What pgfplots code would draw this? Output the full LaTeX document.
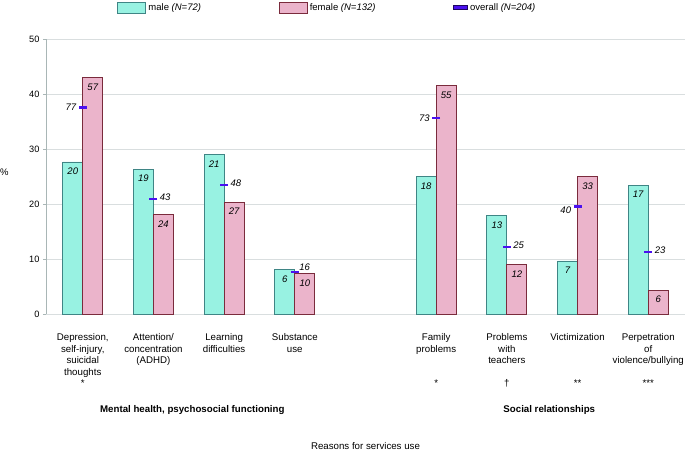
\documentclass[border=0pt]{standalone}
\usepackage{fontspec}
\setmainfont{Liberation Sans}
\usepackage{pgfplots}
\pgfplotsset{compat=1.18}
\definecolor{malefill}{HTML}{98F2E2}
\definecolor{maleedge}{HTML}{3F8585}
\definecolor{femfill}{HTML}{EBB4CB}
\definecolor{femedge}{HTML}{7A2B3C}
\definecolor{ovcol}{HTML}{4A10F0}
\definecolor{gridc}{HTML}{D9DEDF}
\definecolor{axc}{HTML}{A9B6B6}
\pgfplotsset{
  boxlegend/.style={legend image code/.code={\draw[##1] (0bp,-5.5bp) rectangle (28bp,5.5bp);}},
  ovlegend/.style={legend image code/.code={\draw[fill=ovcol,draw=black!60!ovcol,line width=0.6bp] (0bp,-2bp) rectangle (14bp,2bp);}},
}
\begin{document}
\begin{tikzpicture}
\useasboundingbox (0,0) rectangle (685bp,452bp);
\begin{axis}[
  at={(46bp,137.7bp)}, anchor=south west,
  scale only axis, width=639bp, height=275bp,
  xmin=-0.52, xmax=8.52, ymin=0, ymax=50,
  clip=false,
  axis x line*=bottom, axis y line*=left,
  x axis line style={draw=gridc, line width=1bp},
  y axis line style={draw=axc, line width=0.9bp},
  ytick={0,10,...,50},
  ymajorgrids, grid style={draw=gridc, line width=1bp},
  ytick style={draw=axc, line width=0.8bp},
  tick align=outside, major tick length=3bp,
  xtick={0,1,2,3,5,6,7,8},
  xtick style={draw=none},
  xticklabels={
    {Depression,\\self-injury,\\suicidal\\thoughts\\*},
    {Attention/\\concentration\\(ADHD)},
    {Learning\\difficulties},
    {Substance\\use},
    {Family\\problems\\\mbox{}\\\mbox{}\\*},
    {Problems\\with\\teachers\\\mbox{}\\\dag},
    {Victimization\\\mbox{}\\\mbox{}\\\mbox{}\\**},
    {Perpetration\\of\\violence/bullying\\\mbox{}\\***}
  },
  xticklabel style={align=center, font=\fontsize{9.7bp}{11.5bp}\selectfont, anchor=north, yshift=-13bp},
  yticklabel style={font=\fontsize{9.2bp}{11bp}\selectfont},
  /pgf/number format/assume math mode=true,
  legend style={at={(axis description cs:0.1111,1.115)}, anchor=west, legend columns=3,
    draw=none, fill=none, inner sep=0pt, font=\fontsize{9.5bp}{11bp}\selectfont,
    /tikz/every even column/.append style={column sep=75bp},
    nodes={inner sep=2.5bp}},
]
\addplot[ybar, bar width=20bp, bar shift=-10bp, fill=malefill, draw=maleedge, line width=0.8bp, boxlegend,
  nodes near coords, point meta=explicit symbolic, nodes near coords align={below},
  every node near coord/.append style={font=\fontsize{9.5bp}{11bp}\selectfont\itshape, text=black, xshift=-10bp, yshift=-2.5bp}]
  table[meta=n] {
x y n
0 27.7 20
1 26.4 19
2 29.1 21
3 8.2 6
5 25.0 18
6 18.0 13
7 9.7 7
8 23.5 17
};
\addlegendentry{male \textit{(N=72)}}
\addplot[ybar, bar width=20bp, bar shift=10bp, fill=femfill, draw=femedge, line width=0.8bp, boxlegend,
  nodes near coords, point meta=explicit symbolic, nodes near coords align={below},
  every node near coord/.append style={font=\fontsize{9.5bp}{11bp}\selectfont\itshape, text=black, xshift=10bp, yshift=-2.5bp}]
  table[meta=n] {
x y n
0 43.1 57
1 18.2 24
2 20.4 27
3 7.45 10
5 41.6 55
6 9.1 12
7 25.0 33
8 4.4 6
};
\addlegendentry{female \textit{(N=132)}}
\addplot[only marks, mark=-, mark size=4bp, mark options={line width=2.2bp, draw=ovcol}, ovlegend]
  coordinates {(0,37.6) (1,21.0) (2,23.5) (3,7.7) (5,35.7) (6,12.2) (7,19.6) (8,11.3)};
\addlegendentry{overall \textit{(N=204)}}
% overall labels, right side
\addplot[forget plot, draw=none, mark=none, nodes near coords, point meta=explicit symbolic,
  nodes near coords align={right},
  every node near coord/.append style={font=\fontsize{9.5bp}{11bp}\selectfont\itshape, text=black, xshift=3bp, yshift=2bp}]
  table[meta=n] {
x y n
1 21.0 43
2 23.5 48
6 12.2 25
8 11.3 23
};
\addplot[forget plot, draw=none, mark=none, nodes near coords, point meta=explicit symbolic,
  nodes near coords align={right},
  every node near coord/.append style={font=\fontsize{9.5bp}{11bp}\selectfont\itshape, text=black, xshift=1bp, yshift=4.5bp}]
  table[meta=n] {
x y n
3 7.7 16
};
% overall labels, left side
\addplot[forget plot, draw=none, mark=none, nodes near coords, point meta=explicit symbolic,
  nodes near coords align={left},
  every node near coord/.append style={font=\fontsize{9.5bp}{11bp}\selectfont\itshape, text=black, xshift=-3bp}]
  table[meta=n] {
x y n
0 37.6 77
5 35.7 73
};
\addplot[forget plot, draw=none, mark=none, nodes near coords, point meta=explicit symbolic,
  nodes near coords align={left},
  every node near coord/.append style={font=\fontsize{9.5bp}{11bp}\selectfont\itshape, text=black, xshift=-3bp, yshift=-4bp}]
  table[meta=n] {
x y n
7 19.6 40
};
\node[anchor=west, inner sep=0pt, font=\fontsize{9.5bp}{11bp}\selectfont] at (axis cs:-0.52,25.8) [xshift=-46bp] {\%};
\node[anchor=base, inner sep=0pt, font=\fontsize{9.7bp}{11bp}\selectfont\bfseries] at (axis cs:1.55,0) [yshift=-98.6bp] {Mental health, psychosocial functioning};
\node[anchor=base, inner sep=0pt, font=\fontsize{9.7bp}{11bp}\selectfont\bfseries] at (axis cs:6.6,0) [yshift=-98.6bp] {Social relationships};
\node[anchor=base, inner sep=0pt, font=\fontsize{9.7bp}{11bp}\selectfont] at (axis cs:4,0) [yshift=-135.5bp] {Reasons for services use};
\end{axis}
\end{tikzpicture}
\end{document}
